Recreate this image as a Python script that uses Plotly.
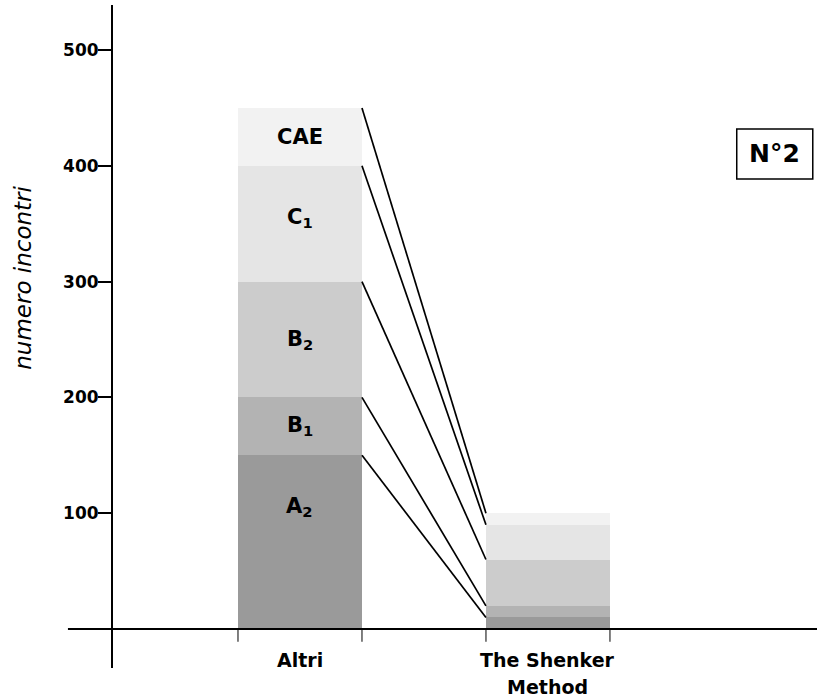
import plotly.graph_objects as go

categories = ["Altri", "The Shenker<br>Method"]
segments = ["A<sub>2</sub>", "B<sub>1</sub>", "B<sub>2</sub>", "C<sub>1</sub>", "CAE"]
altri_values = [150, 50, 100, 100, 50]
shenker_values = [10, 10, 40, 30, 10]
tick_values = [100, 200, 300, 400, 500]
tick_labels = ["100", "200", "300", "400", "500"]
box_label = "N°2"
y_title = "numero incontri"

colors = ["#9a9a9a", "#b3b3b3", "#cccccc", "#e5e5e5", "#f2f2f2"]
FONT = "DejaVu Sans"
BAR_W = 0.5
x_pos = list(range(len(categories)))

fig = go.Figure()

# stacked bars
for i, seg in enumerate(segments):
    fig.add_trace(go.Bar(
        x=x_pos, y=[altri_values[i], shenker_values[i]], width=BAR_W,
        marker=dict(color=colors[i], line=dict(width=0)),
        name=seg, hoverinfo="skip"))

# cumulative boundaries
def cumul(vals):
    out, s = [], 0
    for v in vals:
        s += v
        out.append(s)
    return out

cum_a = cumul(altri_values)
cum_s = cumul(shenker_values)

# connecting lines between segment tops
for a, s in zip(cum_a, cum_s):
    fig.add_trace(go.Scatter(
        x=[x_pos[0] + BAR_W / 2, x_pos[1] - BAR_W / 2], y=[a, s],
        mode="lines", line=dict(color="black", width=1.7),
        hoverinfo="skip", showlegend=False))

# labels inside the Altri bar
fracs = [0.70, 0.5, 0.5, 0.55, 0.5]
base = 0
for seg, v, f in zip(segments, altri_values, fracs):
    fig.add_annotation(x=x_pos[0], y=base + v * f, text="<b>" + seg + "</b>",
                       showarrow=False, xref="x", yref="y",
                       xanchor="center", yanchor="middle",
                       font=dict(family=FONT, size=21, color="black"))
    base += v

# category labels
cat_lines = [c.split("<br>") for c in categories]
for xp, lines in zip(x_pos, cat_lines):
    for j, line in enumerate(lines):
        fig.add_annotation(x=xp, y=0, text="<b>" + line + "</b>", showarrow=False,
                           xref="x", yref="y", xanchor="center", yanchor="top",
                           yshift=-18 - 27 * j,
                           font=dict(family=FONT, size=19, color="black"))

# bar edge ticks
for xp in x_pos:
    for e in (-BAR_W / 2, BAR_W / 2):
        fig.add_shape(type="line", xref="x", yref="y", x0=xp + e, x1=xp + e,
                      y0=0, y1=-11, line=dict(color="#555555", width=1.5))

# x axis line (extends left of the y axis)
fig.add_shape(type="line", xref="paper", yref="y", x0=-0.064, x1=1, y0=0, y1=0,
              line=dict(color="black", width=2))

# N°2 box
fig.add_shape(type="rect", xref="paper", yref="paper", x0=0.886, x1=0.994,
              y0=0.7376, y1=0.813, line=dict(color="black", width=1.5),
              fillcolor="white")
fig.add_annotation(xref="paper", yref="paper", x=0.94, y=0.7753, text="<b>" + box_label + "</b>",
                   xanchor="center", yanchor="middle",
                   showarrow=False, font=dict(family=FONT, size=25, color="black"))

# y title
fig.add_annotation(xref="paper", yref="paper", x=-0.127, y=0.588, text="<i>" + y_title + "</i>",
                   xanchor="center", yanchor="middle",
                   textangle=-90, showarrow=False,
                   font=dict(family=FONT, size=23, color="black"))

fig.update_layout(
    width=817, height=697,
    margin=dict(l=113, r=0, t=5, b=29),
    barmode="stack", bargap=0, showlegend=False,
    paper_bgcolor="white", plot_bgcolor="white",
    xaxis=dict(visible=False, range=[-0.754, 2.085], fixedrange=True),
    yaxis=dict(range=[-33.7, 538.9], tickvals=tick_values, ticktext=tick_labels,
               showline=True, linecolor="black", linewidth=2, ticks="outside",
               ticklen=13, tickwidth=1.5, tickcolor="black", showgrid=False,
               zeroline=False, ticklabelstandoff=-4,
               tickfont=dict(family=FONT, size=17, color="black", weight="bold"),
               fixedrange=True),
)

fig.write_html("out.html", config={"displayModeBar": False},
               post_script="document.body.style.margin='0';document.body.style.overflow='hidden';")
